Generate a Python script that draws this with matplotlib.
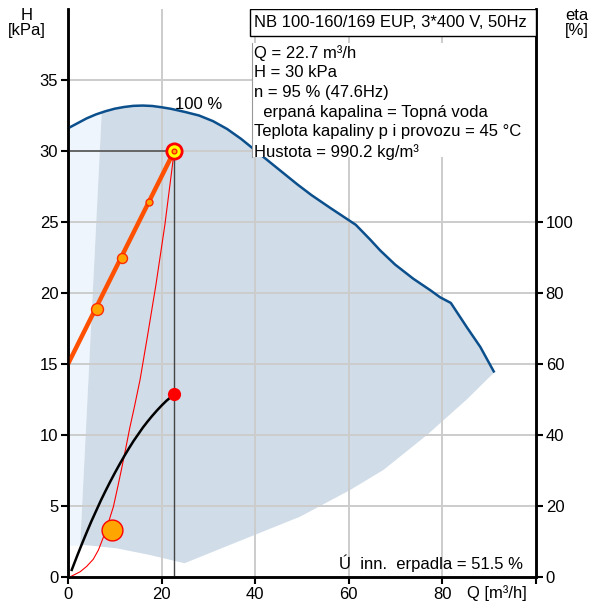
import matplotlib
matplotlib.use("Agg")
import matplotlib.pyplot as plt
from matplotlib.patches import Rectangle, Polygon

plt.rcParams['font.family'] = ['Liberation Sans', 'DejaVu Sans']

# ---- data ----
# pump curve at 100 % speed
curve_q = [0, 2, 4, 6, 8, 10, 12, 14, 16, 18, 20, 22, 25, 28, 31, 34, 37, 40, 43, 46, 49, 52, 56,
           61.5, 64.6, 66.7, 69.9, 73.8, 77.4, 79.5, 81.8, 85.2, 88.1, 91.1]
curve_h = [31.6, 31.95, 32.3, 32.58, 32.8, 32.98, 33.1, 33.18, 33.2, 33.17, 33.08, 32.97, 32.75,
           32.5, 32.1, 31.55, 30.85, 30.05, 29.25, 28.45, 27.65, 26.9, 26.0,
           24.8, 23.75, 23.0, 22.0, 21.0, 20.2, 19.7, 19.3, 17.6, 16.2, 14.4]
# lower boundary of the working area (from right end back to the left)
lower_q = [91.1, 89.5, 85.2, 76.7, 67.4, 60.3, 49.6, 37.0, 24.9, 17.5, 10.4, 3.6, 2.6]
lower_h = [14.4, 13.9, 12.5, 10.0, 7.54, 6.13, 4.25, 2.58, 0.97, 1.55, 2.02, 2.25, 2.25]
# left edge of the working area
area_left_q = [7.2, 2.6]
area_left_h = [32.7, 2.25]
light_bottom_h = 2.2

# system / regulation line (thick orange) with marked points
reg_q = [0, 22.7]
reg_h = [15, 30]
reg_pts_q = [6.1, 11.6, 17.3]
reg_pts_h = [18.9, 22.5, 26.4]
reg_pts_size = [8.6, 7.2, 5.0]

# thin red curve
red_q = [0.4, 2.6, 4.0, 5.4, 6.5, 7.5, 8.5, 9.7, 10.6, 11.5, 12.3, 13.2, 14.2, 15.4, 17.0, 18.8, 20.7, 22.7]
red_h = [0.0, 0.37, 0.75, 1.25, 1.9, 2.75, 3.7, 4.95, 6.3, 7.7, 9.0, 10.5, 12.0, 13.9, 17.0, 20.6, 24.8, 30.0]
npsh_q, npsh_h = 9.3, 3.3

# efficiency curve (right axis, %)
eta_q = [0.8, 2, 3, 4, 5, 6, 7, 8, 9, 10, 11, 12, 13, 14, 15, 16, 17, 18, 19, 20, 21, 22.7]
eta_v = [2.0, 6.1, 9.4, 12.6, 15.7, 18.6, 21.5, 24.2, 26.8, 29.3, 31.7, 34.0, 36.2, 38.3, 40.2,
         42.1, 43.8, 45.4, 46.9, 48.3, 49.6, 51.5]

# operating point
op_q, op_h, op_eta = 22.7, 30.0, 51.5

h_ticks = [0, 5, 10, 15, 20, 25, 30, 35]
eta_ticks = [0, 20, 40, 60, 80, 100]
q_ticks = [0, 20, 40, 60, 80, 100]
q_labels = ['0', '20', '40', '60', '80', '']

title_txt = "NB 100-160/169 EUP, 3*400 V, 50Hz"
info_lines = ["Q = 22.7 m³/h", "H = 30 kPa", "n = 95 % (47.6Hz)",
              "  erpaná kapalina = Topná voda",
              "Teplota kapaliny p i provozu = 45 °C",
              "Hustota = 990.2 kg/m³"]
eff_txt = "Ú  inn.  erpadla = 51.5 %"

# ---- figure ----
W, H = 592, 606
fig = plt.figure(figsize=(W / 100, H / 100), dpi=100)
L, R, T, B = 68, 536, 9, 577
ax = fig.add_axes([L / W, 1 - B / H, (R - L) / W, (B - T) / H])
ax.set_xlim(0, 100)
ax.set_ylim(0, 40)

FS = 12
DARK = '#d0dce8'
LIGHT = '#eef5fc'
BLUE = '#0b4f8c'
GRID = '#cccccc'

# light area at the left
light_poly = [(q, h) for q, h in zip(curve_q, curve_h) if q <= area_left_q[0]]
light_poly += [(area_left_q[0], area_left_h[0]), (area_left_q[1], area_left_h[1]),
               (area_left_q[1], light_bottom_h), (0, light_bottom_h)]
ax.add_patch(Polygon(light_poly, closed=True, facecolor=LIGHT, edgecolor='none', zorder=1))

# dark working area
dark_poly = [(area_left_q[0], area_left_h[0])]
dark_poly += [(q, h) for q, h in zip(curve_q, curve_h) if q > area_left_q[0]]
dark_poly += list(zip(lower_q, lower_h))
ax.add_patch(Polygon(dark_poly, closed=True, facecolor=DARK, edgecolor='none', zorder=1))

# grid
for q in [20, 40, 60, 80]:
    ax.axvline(q, color=GRID, lw=1.4, zorder=1.5)
for h in [5, 10, 15, 20, 25, 30, 35]:
    ax.axhline(h, color=GRID, lw=1.4, zorder=1.5)

# pump curve
ax.plot(curve_q, curve_h, color=BLUE, lw=1.8, zorder=3, solid_capstyle='butt')
ax.text(22.9, 33.3, "100 %", fontsize=FS, ha='left', va='center', zorder=4)

# operating point reference lines
ax.plot([0, op_q], [op_h, op_h], color='#555555', lw=1.2, zorder=3)
ax.plot([op_q, op_q], [op_h, 0], color='#444444', lw=1.0, zorder=3)

# thin red curve
ax.plot(red_q, red_h, color='#ff0000', lw=0.8, zorder=3.2)
ax.plot([npsh_q], [npsh_h], 'o', ms=15, mfc='#ffa500', mec='#ff0000', mew=1.0, zorder=5)

# regulation line
ax.plot(reg_q, reg_h, color='#ff5000', lw=3.2, zorder=3.5, solid_capstyle='butt')
for q, h, s in zip(reg_pts_q, reg_pts_h, reg_pts_size):
    ax.plot([q], [h], 'o', ms=s, mfc='#ffa500', mec='#ff2a00', mew=1.0, zorder=4)
ax.plot([op_q], [op_h], 'o', ms=11, mfc='#ffff00', mec='#ff0000', mew=2.0, zorder=5)
ax.plot([op_q], [op_h], 'o', ms=3.5, mfc='#ffa500', mec='#ff0000', mew=0.8, zorder=6)

# efficiency on right axis
ax2 = ax.twinx()
ax2.set_ylim(0, 160)
ax2.plot(eta_q, eta_v, color='black', lw=1.8, zorder=3)
ax2.plot([op_q], [op_eta], 'o', ms=9.5, color='#ff0000', mec='none', zorder=5)

# axes styling
for a in (ax, ax2):
    for s in a.spines.values():
        s.set_linewidth(1.8)
    a.spines['top'].set_visible(False)
ax.set_yticks(h_ticks)
ax.set_yticklabels([str(t) for t in h_ticks])
ax.set_xticks(q_ticks)
ax.set_xticklabels(q_labels)
ax2.set_yticks(eta_ticks)
ax2.set_yticklabels([str(t) for t in eta_ticks])
ax.tick_params(axis='both', direction='out', length=5, width=1.5, labelsize=FS, pad=2)
ax2.tick_params(axis='y', direction='out', length=5, width=1.5, labelsize=FS, pad=2)

ax2.text(97.3, 1.0 * 4, eff_txt, fontsize=FS, ha='right', va='center', zorder=6)

# axis labels
fig.text(27 / W, 1 - 15 / H, "H", fontsize=FS, ha='center', va='center')
fig.text(27 / W, 1 - 31 / H, "[kPa]", fontsize=FS, ha='center', va='center')
fig.text(565 / W, 1 - 15 / H, "eta", fontsize=FS, ha='left', va='center')
fig.text(565 / W, 1 - 31 / H, "[%]", fontsize=FS, ha='left', va='center')
fig.text(527 / W, 1 - 593 / H, "Q [m³/h]", fontsize=FS, ha='right', va='center')

# info box
ax2.add_patch(Rectangle((252 / W, 1 - 157 / H), (535 - 252) / W, (157 - 43) / H,
                        transform=fig.transFigure, facecolor='white', edgecolor='none',
                        lw=0, zorder=7))
ax2.plot([252 / W, 252 / W], [1 - 157 / H, 1 - 43 / H], color='#999999', lw=0.8,
         transform=fig.transFigure, zorder=7.5)
ys = [53.3, 72.7, 92.3, 112.3, 131.7, 151.7]
for line, y in zip(info_lines, ys):
    ax2.text(253.5 / W, 1 - y / H, line, fontsize=FS, ha='left', va='center',
             transform=fig.transFigure, zorder=8)

# title box
ax2.add_patch(Rectangle((250 / W, 1 - 36 / H), (536 - 250) / W, (36 - 9) / H,
                        transform=fig.transFigure, facecolor='white', edgecolor='black',
                        lw=1.0, zorder=7))
ax2.text(254 / W, 1 - 22.5 / H, title_txt, fontsize=FS, ha='left', va='center',
         transform=fig.transFigure, zorder=8)

fig.savefig("out.png", dpi=100)
